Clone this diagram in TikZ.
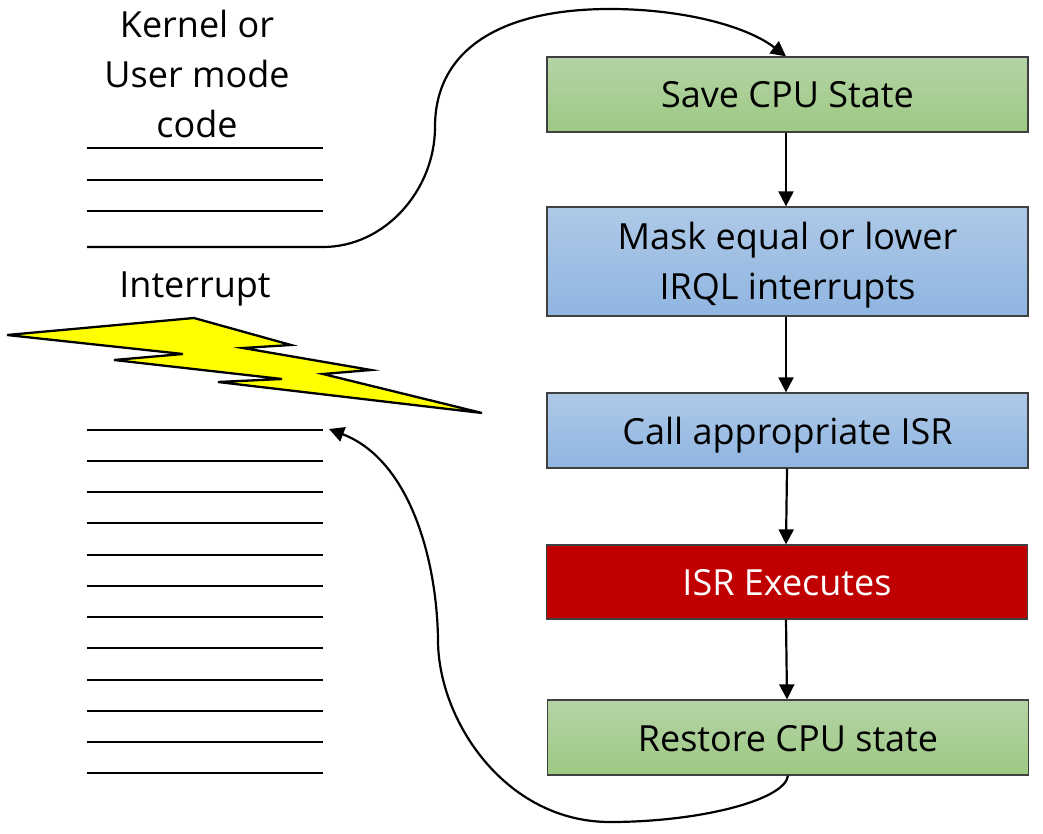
\documentclass[tikz,border=0pt]{standalone}
\usepackage{fontspec}
\setmainfont{Open Sans}
\usetikzlibrary{arrows.meta}
\tikzset{
  stepbox/.style={draw=black!75, line width=1.3pt, minimum width=481pt, align=center, font=\fontsize{36}{50}\selectfont},
  greenbox/.style={stepbox, top color=green1, bottom color=green2, text height=34pt, text depth=7pt},
  bluebox/.style={stepbox, top color=blue1, bottom color=blue2},
  redbox/.style={stepbox, fill=red1, text=white, text height=34pt, text depth=7pt},
  codeline/.style={line width=2.3pt, black},
  flow/.style={-{Triangle[length=15pt,width=15pt]}, line width=2.2pt, black},
  label/.style={align=center, font=\fontsize{36}{50}\selectfont}
}
\definecolor{green1}{HTML}{B5D3A6}
\definecolor{green2}{HTML}{9DC983}
\definecolor{blue1}{HTML}{AEC9E7}
\definecolor{blue2}{HTML}{8FB5E1}
\definecolor{red1}{HTML}{C00000}
\definecolor{bolt}{HTML}{FFFF00}
\begin{document}
\begin{tikzpicture}[x=1pt,y=-1pt]
    \useasboundingbox (0,0) rectangle (1043,834);

    % Testi a sinistra
    \node[label] (mode) at (197,74) {Kernel or\\User mode\\code};
    \node[label] (interrupt) at (195,289) {Interrupt};

    % Righe di codice
    \foreach \y in {148,180,211}
        \draw[codeline] (87,\y) -- (323,\y);
    \foreach \y in {430,461,492,523,555,586,617,648,680,711,742,773}
        \draw[codeline] (87,\y) -- (323,\y);
    \coordinate (leave) at (87,247);
    \coordinate (back) at (329,429);

    % Fulmine
    \draw[fill=bolt, line width=2.3pt, line join=miter] (7,335) -- (194,318) -- (291,345) -- (243,348) -- (371,370) -- (323,374) -- (482,413)
        -- (218,382) -- (282,379) -- (114,360) -- (183,354) -- cycle;

    % Blocchi
    \node[greenbox, minimum height=75pt] (save) at (787.5,94.5) {Save CPU State};
    \node[bluebox, minimum height=109pt] (mask) at (787.5,261.5) {\rule{0pt}{35pt}Mask equal or lower\\IRQL interrupts};
    \node[bluebox, minimum height=75pt, text height=34pt, text depth=7pt] (call) at (787.5,430.5) {Call appropriate ISR};
    \node[redbox, minimum height=74pt] (exec) at (787,582) {ISR Executes};
    \node[greenbox, minimum height=75pt] (restore) at (788,737.5) {Restore CPU state};

    % Frecce
    \draw[flow] ([xshift=-1.5pt]save.south) -- ([xshift=-1.5pt]mask.north);
    \draw[flow] ([xshift=-1.5pt]mask.south) -- ([xshift=-1.5pt]call.north);
    \draw[flow] ([xshift=-0.5pt]call.south) -- ([xshift=-1pt]exec.north);
    \draw[flow] ([xshift=-1pt]exec.south) -- ([xshift=-1pt]restore.north);
    \draw[flow] (leave) -- (323,247) .. controls (385,247) and (435,190) .. (435,127)
        .. controls (435,50) and (500,9) .. (610,9) .. controls (680,9) and (745,25) .. ([xshift=-1.5pt]save.north);
    \draw[flow] (restore.south) .. controls (785,800) and (700,822) .. (610,822)
        .. controls (505,822) and (438,720) .. (438,640) .. controls (437,560) and (410,460) .. (back);
\end{tikzpicture}
\end{document}
